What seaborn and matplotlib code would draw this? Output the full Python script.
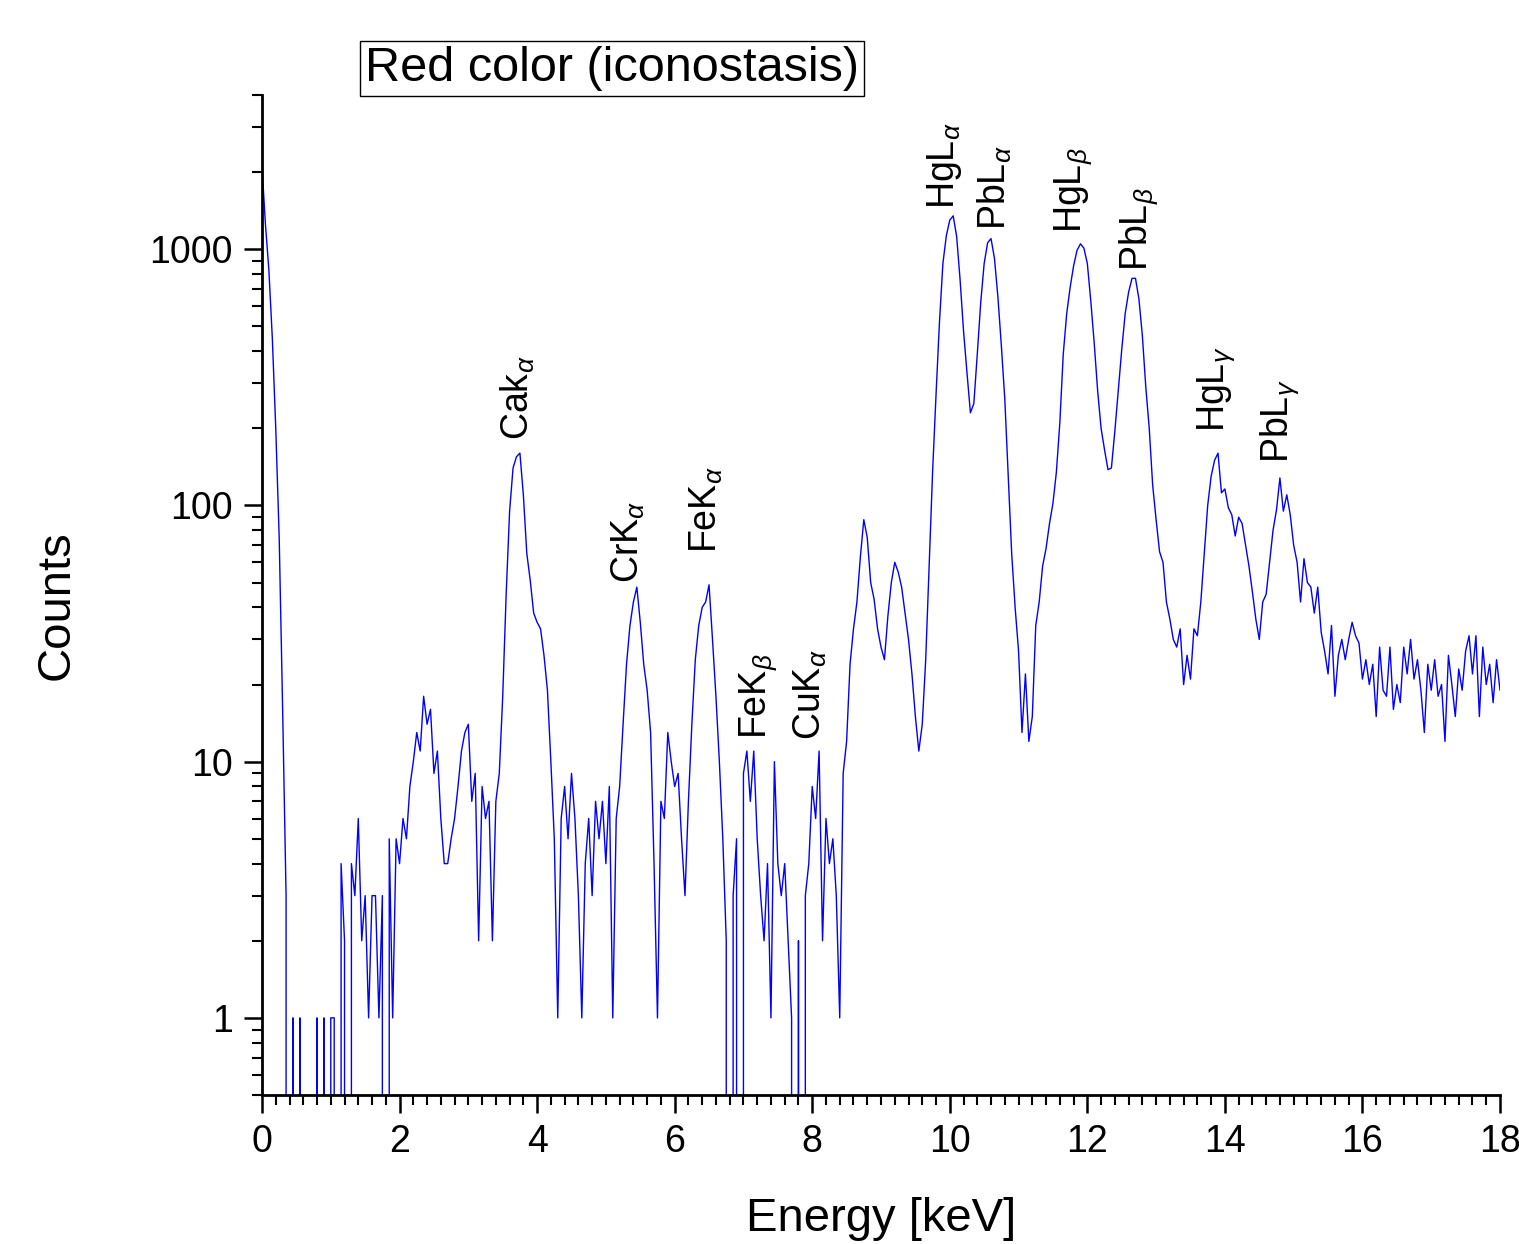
import numpy as np
import pandas as pd
import seaborn as sns
import matplotlib.pyplot as plt
from matplotlib.ticker import LogLocator, NullFormatter, MultipleLocator

# spectrum, one value every 0.05 keV
energy_step = 0.05
counts_0_3 = [2100, 1250, 830, 450, 200, 75, 16, 3, 0, 1, 0, 1, 0, 0, 0, 0, 1, 0, 1, 0,
              1, 1, 0, 4, 2, 0, 4, 3, 6, 2, 3, 1, 3, 3, 1, 3, 0, 5, 1, 5,
              4, 6, 5, 8, 10, 13, 11, 18, 14, 16, 9, 11, 6, 4, 4, 5, 6, 8, 11, 13]
counts_3_6 = [14, 7, 9, 2, 8, 6, 7, 2, 7, 9, 18, 45, 95, 140, 155, 160, 110, 65, 51, 38,
              35, 33, 26, 19, 10, 5, 1, 6, 8, 5, 9, 6, 3, 1, 4, 6, 3, 7, 5, 7,
              4, 8, 1, 6, 8, 14, 24, 34, 42, 48, 35, 24, 19, 13, 4, 1, 7, 6, 13, 10]
counts_6_9 = [8, 9, 5, 3, 7, 14, 25, 34, 40, 42, 49, 30, 18, 10, 5, 2, 0, 3, 5, 0,
              9, 11, 7, 11, 5, 3, 2, 4, 1, 10, 4, 3, 4, 2, 1, 0, 2, 0, 3, 4,
              8, 6, 11, 2, 6, 4, 5, 3, 1, 9, 12, 24, 33, 42, 63, 88, 75, 50, 43, 33]
counts_9_12 = [28, 25, 37, 50, 60, 55, 48, 38, 30, 22, 15, 11, 14, 25, 58, 135, 270, 520, 880, 1130,
               1300, 1350, 1120, 760, 480, 330, 230, 250, 390, 620, 880, 1060, 1100, 920, 650, 420, 260, 130, 65, 40,
               27, 13, 22, 12, 15, 34, 42, 58, 68, 85, 102, 135, 210, 390, 560, 710, 860, 990, 1050, 1010]
counts_12_15 = [880, 630, 430, 280, 200, 165, 138, 140, 195, 280, 405, 560, 680, 770, 770, 640, 460, 290, 200, 120,
                88, 66, 60, 42, 36, 30, 28, 33, 20, 26, 21, 33, 31, 42, 65, 100, 130, 150, 160, 112,
                116, 98, 92, 76, 90, 85, 70, 58, 46, 36, 30, 42, 45, 60, 80, 96, 128, 95, 110, 92]
counts_15_18 = [70, 60, 42, 62, 50, 48, 38, 48, 32, 27, 22, 34, 18, 26, 30, 25, 30, 35, 31, 29,
                21, 25, 20, 24, 15, 28, 19, 18, 28, 16, 20, 17, 28, 22, 30, 21, 25, 19, 13, 24,
                19, 25, 18, 20, 12, 26, 20, 15, 23, 19, 27, 31, 22, 31, 15, 28, 20, 24, 17, 25,
                19]

peak_names = [r'Cak$_\alpha$', r'CrK$_\alpha$', r'FeK$_\alpha$', r'FeK$_\beta$', r'CuK$_\alpha$',
              r'HgL$_\alpha$', r'PbL$_\alpha$', r'HgL$_\beta$', r'PbL$_\beta$',
              r'HgL$_\gamma$', r'PbL$_\gamma$']
peak_energy = [3.72, 5.32, 6.46, 7.21, 7.97, 9.92, 10.66, 11.79, 12.74, 13.88, 14.8]
peak_label_y = [180, 50, 65, 12.3, 12.1, 1440, 1190, 1160, 826, 193, 146]

x_ticks = [0, 2, 4, 6, 8, 10, 12, 14, 16, 18]
y_ticks = [1, 10, 100, 1000]
y_tick_labels = ['1', '10', '100', '1000']

counts = counts_0_3 + counts_3_6 + counts_6_9 + counts_9_12 + counts_12_15 + counts_15_18
energy = np.round(np.arange(len(counts)) * energy_step, 2)
df = pd.DataFrame({'Energy': energy, 'Counts': counts})

sns.set_style('ticks')
plt.rcParams['font.family'] = ['Liberation Sans', 'DejaVu Sans']
plt.rcParams['mathtext.fontset'] = 'custom'
plt.rcParams['mathtext.rm'] = 'Liberation Sans'
plt.rcParams['mathtext.it'] = 'Liberation Sans:italic'
plt.rcParams.update({'text.color': 'black', 'axes.labelcolor': 'black',
                     'xtick.color': 'black', 'ytick.color': 'black'})

fig = plt.figure(figsize=(15.19, 12.44), dpi=100)
ax = fig.add_axes([262 / 1519, 1 - 1095 / 1244, 1238 / 1519, 1000 / 1244])

sns.lineplot(data=df, x='Energy', y='Counts', ax=ax, color='#0000ff',
             linewidth=1.0, estimator=None)
ax.set_yscale('log')
ax.set_xlim(0, 18)
ax.set_ylim(0.5, 4000)

ax.set_xticks(x_ticks, labels=[str(t) for t in x_ticks])
ax.xaxis.set_minor_locator(MultipleLocator(0.2))
ax.set_yticks(y_ticks, labels=y_tick_labels)
ax.yaxis.set_minor_locator(LogLocator(subs=range(2, 10)))
ax.yaxis.set_minor_formatter(NullFormatter())

for side in ['top', 'right']:
    ax.spines[side].set_visible(False)
for side in ['left', 'bottom']:
    ax.spines[side].set_linewidth(2)
    ax.spines[side].set_color('black')
ax.tick_params(which='major', direction='out', length=13, width=1.8,
               labelsize=27, pad=8)
ax.tick_params(which='minor', direction='out', length=7, width=1.5)

ax.set_xlabel('Energy [keV]', fontsize=34)
ax.xaxis.set_label_coords(0.5, -0.102)
ax.set_ylabel('Counts', fontsize=34)
ax.yaxis.set_label_coords(-0.148, 0.49)

for name, e, c in zip(peak_names, peak_energy, peak_label_y):
    ax.text(e, c, name, rotation=90, ha='center', va='bottom', fontsize=27)

fig.text(0.403, 0.945, 'Red color (iconostasis)', ha='center', va='center', fontsize=35,
         bbox=dict(boxstyle='square,pad=0.1', fc='white', ec='black', lw=1))

fig.savefig('out.png', dpi=100)
